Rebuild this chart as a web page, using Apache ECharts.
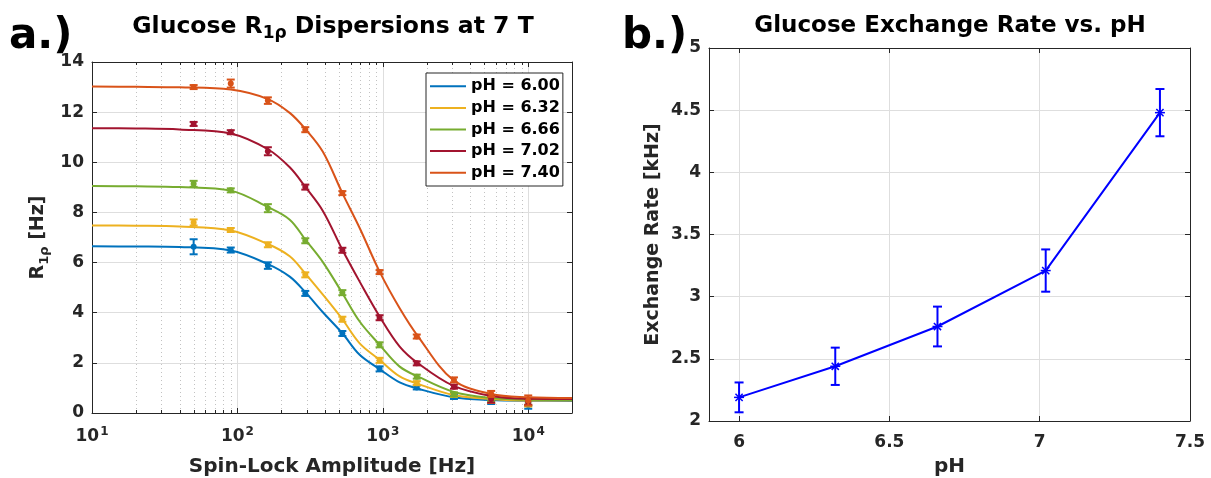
<!DOCTYPE html>
<html>
<head>
<meta charset="utf-8">
<script src="https://cdn.jsdelivr.net/npm/echarts@6/dist/echarts.min.js"></script>
<style>
  html, body { margin: 0; padding: 0; background: #ffffff; }
  #main { width: 1211px; height: 478px; }
</style>
</head>
<body>
<div id="main"></div>
<script>
// ---- Panel a: R1rho dispersion data (spin-lock amplitude in Hz) ----
const spinLockHz = [50, 90, 162, 293, 527, 950, 1712, 3085, 5560, 10000];
const phLabels = ['pH = 6.00', 'pH = 6.32', 'pH = 6.66', 'pH = 7.02', 'pH = 7.40'];
const phColors = ['#0072BD', '#EDB120', '#77AC30', '#A2142F', '#D95319'];

const r1rhoPH600 = [6.63, 6.50, 5.88, 4.77, 3.17, 1.76, 1.02, 0.64, 0.46, 0.32];
const r1rhoPH632 = [7.60, 7.30, 6.71, 5.51, 3.74, 2.10, 1.19, 0.72, 0.50, 0.38];
const r1rhoPH666 = [9.14, 8.88, 8.17, 6.87, 4.80, 2.72, 1.45, 0.74, 0.58, 0.42];
const r1rhoPH702 = [11.53, 11.20, 10.44, 9.01, 6.49, 3.80, 1.98, 1.05, 0.56, 0.45];
const r1rhoPH740 = [13.00, 13.14, 12.46, 11.30, 8.77, 5.62, 3.05, 1.32, 0.76, 0.50];

const r1rhoErr600 = [0.30, 0.10, 0.13, 0.10, 0.10, 0.10, 0.08, 0.08, 0.10, 0.15];
const r1rhoErr632 = [0.12, 0.08, 0.10, 0.10, 0.10, 0.10, 0.08, 0.08, 0.10, 0.12];
const r1rhoErr666 = [0.12, 0.08, 0.16, 0.10, 0.10, 0.10, 0.08, 0.08, 0.10, 0.12];
const r1rhoErr702 = [0.08, 0.08, 0.16, 0.10, 0.10, 0.10, 0.08, 0.08, 0.15, 0.12];
const r1rhoErr740 = [0.08, 0.16, 0.13, 0.10, 0.08, 0.08, 0.08, 0.10, 0.12, 0.20];

// fitted dispersion curves, sampled along the spin-lock axis
const fitHz = [10, 20, 40, 90, 162, 229, 293, 387, 527, 693, 950, 1306, 1750, 3041, 5560, 10000, 20000];
const fitPH600 = [6.65, 6.64, 6.62, 6.48, 5.94, 5.44, 4.82, 4.02, 3.18, 2.32, 1.75, 1.22, 0.97, 0.63, 0.52, 0.49, 0.48];
const fitPH632 = [7.48, 7.47, 7.44, 7.28, 6.74, 6.25, 5.56, 4.72, 3.74, 2.78, 2.12, 1.46, 1.16, 0.72, 0.56, 0.50, 0.50];
const fitPH666 = [9.05, 9.04, 9.01, 8.87, 8.21, 7.71, 6.92, 6.02, 4.78, 3.65, 2.72, 1.85, 1.45, 0.85, 0.60, 0.53, 0.52];
const fitPH702 = [11.36, 11.35, 11.31, 11.15, 10.52, 9.80, 9.02, 8.06, 6.51, 5.24, 3.85, 2.65, 1.98, 1.09, 0.68, 0.57, 0.56];
const fitPH740 = [13.02, 13.01, 12.99, 12.90, 12.52, 11.97, 11.33, 10.42, 8.77, 7.38, 5.64, 4.18, 3.05, 1.32, 0.76, 0.63, 0.60];

// minor decade positions on the log axis
const minorTickHz = [20, 30, 40, 50, 60, 70, 80, 90,
                     200, 300, 400, 500, 600, 700, 800, 900,
                     2000, 3000, 4000, 5000, 6000, 7000, 8000, 9000];

// ---- Panel b: exchange rate vs pH ----
const phValues = [6.00, 6.32, 6.66, 7.02, 7.40];
const exchangeRateKHz = [2.19, 2.44, 2.76, 3.21, 4.48];
const exchangeRateErr = [0.12, 0.15, 0.16, 0.17, 0.19];

const r1rhoSets = [r1rhoPH600, r1rhoPH632, r1rhoPH666, r1rhoPH702, r1rhoPH740];
const r1rhoErrs = [r1rhoErr600, r1rhoErr632, r1rhoErr666, r1rhoErr702, r1rhoErr740];
const fitSets = [fitPH600, fitPH632, fitPH666, fitPH702, fitPH740];

const FONT = '"DejaVu Sans", Verdana, sans-serif';
const INK = '#262626';
const GRID_MAJOR = '#dedede';
const GRID_MINOR = '#c2c2c2';

const chart = echarts.init(document.getElementById('main'), null, { renderer: 'canvas' });

function tickLabelStyle() {
  return { color: INK, fontFamily: FONT, fontWeight: 'bold', fontSize: 17 };
}
function axisLineStyle() {
  return { show: true, onZero: false, lineStyle: { color: INK, width: 1 } };
}
function innerTicks() {
  return { show: true, inside: true, length: 5, lineStyle: { color: INK, width: 1 } };
}
function isDecade(v) {
  const e = Math.log10(v);
  return Math.abs(e - Math.round(e)) < 1e-6;
}

// error bar with caps plus a filled dot marker
function dotErrorBar(params, api) {
  const x = api.value(0), y = api.value(1), e = api.value(2);
  const hi = api.coord([x, y + e]);
  const lo = api.coord([x, y - e]);
  const mid = api.coord([x, y]);
  const color = api.visual('color');
  const s = { stroke: color, lineWidth: 2, fill: null };
  const cap = 4;
  return {
    type: 'group',
    children: [
      { type: 'line', shape: { x1: hi[0], y1: hi[1], x2: lo[0], y2: lo[1] }, style: s },
      { type: 'line', shape: { x1: hi[0] - cap, y1: hi[1], x2: hi[0] + cap, y2: hi[1] }, style: s },
      { type: 'line', shape: { x1: lo[0] - cap, y1: lo[1], x2: lo[0] + cap, y2: lo[1] }, style: s },
      { type: 'circle', shape: { cx: mid[0], cy: mid[1], r: 3 }, style: { fill: color } }
    ]
  };
}

// error bar with caps plus an asterisk marker
function starErrorBar(params, api) {
  const x = api.value(0), y = api.value(1), e = api.value(2);
  const hi = api.coord([x, y + e]);
  const lo = api.coord([x, y - e]);
  const c = api.coord([x, y]);
  const s = { stroke: '#0000ff', lineWidth: 2, fill: null };
  const thin = { stroke: '#0000ff', lineWidth: 1.5 };
  const cap = 4.5, r = 5, d = 3.6;
  return {
    type: 'group',
    children: [
      { type: 'line', shape: { x1: hi[0], y1: hi[1], x2: lo[0], y2: lo[1] }, style: s },
      { type: 'line', shape: { x1: hi[0] - cap, y1: hi[1], x2: hi[0] + cap, y2: hi[1] }, style: s },
      { type: 'line', shape: { x1: lo[0] - cap, y1: lo[1], x2: lo[0] + cap, y2: lo[1] }, style: s },
      { type: 'line', shape: { x1: c[0] - r, y1: c[1], x2: c[0] + r, y2: c[1] }, style: thin },
      { type: 'line', shape: { x1: c[0] - d, y1: c[1] - d, x2: c[0] + d, y2: c[1] + d }, style: thin },
      { type: 'line', shape: { x1: c[0] - d, y1: c[1] + d, x2: c[0] + d, y2: c[1] - d }, style: thin }
    ]
  };
}

// dotted minor grid lines and small minor ticks of the log axis
function minorGrid(params, api) {
  const v = api.value(0);
  const b = api.coord([v, 0]);
  const t = api.coord([v, 14]);
  const x = Math.round(b[0]) + 0.5;
  return {
    type: 'group',
    children: [
      { type: 'line', shape: { x1: x, y1: b[1], x2: x, y2: t[1] }, style: { stroke: GRID_MINOR, lineWidth: 1, lineDash: [1, 3] } },
      { type: 'line', shape: { x1: x, y1: b[1], x2: x, y2: b[1] - 3 }, style: { stroke: INK, lineWidth: 1 } },
      { type: 'line', shape: { x1: x, y1: t[1], x2: x, y2: t[1] + 3 }, style: { stroke: INK, lineWidth: 1 } }
    ]
  };
}

const series = [];
series.push({
  type: 'custom', name: 'minor-grid', xAxisIndex: 0, yAxisIndex: 0, silent: true, z: 1,
  data: minorTickHz.map(v => [v, 0]),
  renderItem: minorGrid
});
fitSets.forEach((fit, i) => {
  series.push({
    type: 'line', name: phLabels[i], xAxisIndex: 0, yAxisIndex: 0,
    data: fitHz.map((x, k) => [x, fit[k]]),
    smooth: 0.35, symbol: 'none', z: 3 + i * 2,
    itemStyle: { color: phColors[i] },
    lineStyle: { color: phColors[i], width: 2 }
  });
  series.push({
    type: 'custom', name: phLabels[i] + ' data', xAxisIndex: 0, yAxisIndex: 0, z: 4 + i * 2,
    itemStyle: { color: phColors[i] },
    data: spinLockHz.map((x, k) => [x, r1rhoSets[i][k], r1rhoErrs[i][k]]),
    renderItem: dotErrorBar
  });
});
series.push({
  type: 'line', name: 'exchange', xAxisIndex: 2, yAxisIndex: 2,
  data: phValues.map((x, k) => [x, exchangeRateKHz[k]]),
  symbol: 'none', z: 3,
  lineStyle: { color: '#0000ff', width: 2 }
});
series.push({
  type: 'custom', name: 'exchange-err', xAxisIndex: 2, yAxisIndex: 2, z: 4,
  data: phValues.map((x, k) => [x, exchangeRateKHz[k], exchangeRateErr[k]]),
  renderItem: starErrorBar
});

const option = {
  animation: false,
  backgroundColor: '#ffffff',
  grid: [
    { left: 92, top: 62, width: 480, height: 351, show: false, outerBoundsMode: 'none', containLabel: false },
    { left: 709, top: 48, width: 481, height: 373, show: false, outerBoundsMode: 'none', containLabel: false }
  ],
  legend: {
    data: phLabels,
    icon: 'rect',
    orient: 'vertical',
    left: 426, top: 73,
    itemWidth: 36, itemHeight: 2, itemGap: 1,
    padding: [3, 3, 3, 4],
    borderColor: INK, borderWidth: 1,
    backgroundColor: '#ffffff',
    textStyle: { color: '#000000', fontFamily: FONT, fontWeight: 'bold', fontSize: 16, lineHeight: 20.6 },
    selectedMode: false
  },
  xAxis: [
    {
      gridIndex: 0, type: 'log', logBase: 10, min: 10, max: 20000, position: 'bottom',
      axisLine: axisLineStyle(), axisTick: innerTicks(),
      axisLabel: Object.assign(tickLabelStyle(), {
        margin: 13,
        formatter: v => isDecade(v) ? '{b|10}{p|' + Math.round(Math.log10(v)) + '}' : '',
        rich: {
          b: { color: INK, fontFamily: FONT, fontWeight: 'bold', fontSize: 17, lineHeight: 21 },
          p: { color: INK, fontFamily: FONT, fontWeight: 'bold', fontSize: 12, lineHeight: 14, padding: [0, 0, 10, 1] }
        }
      }),
      splitLine: { show: true, lineStyle: { color: GRID_MAJOR, width: 1 } },
      name: 'Spin-Lock Amplitude [Hz]', nameLocation: 'middle', nameGap: 44,
      nameTextStyle: { color: INK, fontFamily: FONT, fontWeight: 'bold', fontSize: 20 }
    },
    {
      gridIndex: 0, type: 'log', logBase: 10, min: 10, max: 20000, position: 'top',
      axisLine: axisLineStyle(), axisTick: innerTicks(),
      axisLabel: { show: false }, splitLine: { show: false }
    },
    {
      gridIndex: 1, type: 'value', min: 5.9, max: 7.5, splitNumber: 3, position: 'bottom',
      axisLine: axisLineStyle(), axisTick: innerTicks(),
      axisLabel: Object.assign(tickLabelStyle(), {
        margin: 13,
        formatter: v => (Math.abs(v * 2 - Math.round(v * 2)) < 1e-6) ? String(+v.toFixed(1)) : ''
      }),
      splitLine: { show: true, lineStyle: { color: GRID_MAJOR, width: 1 } },
      name: 'pH', nameLocation: 'middle', nameGap: 36,
      nameTextStyle: { color: INK, fontFamily: FONT, fontWeight: 'bold', fontSize: 20 }
    },
    {
      gridIndex: 1, type: 'value', min: 5.9, max: 7.5, splitNumber: 3, position: 'top',
      axisLine: axisLineStyle(), axisTick: innerTicks(),
      axisLabel: { show: false }, splitLine: { show: false }
    }
  ],
  yAxis: [
    {
      gridIndex: 0, type: 'value', min: 0, max: 14, interval: 2, position: 'left',
      axisLine: axisLineStyle(), axisTick: innerTicks(),
      axisLabel: Object.assign(tickLabelStyle(), { margin: 8 }),
      splitLine: { show: true, lineStyle: { color: GRID_MAJOR, width: 1 } },
      name: '{m|R}{s|1\u03C1}{m| [Hz]}', nameLocation: 'middle', nameGap: 42, nameRotate: 90,
      nameTextStyle: {
        rich: {
          m: { color: INK, fontFamily: FONT, fontWeight: 'bold', fontSize: 19, lineHeight: 23 },
          s: { color: INK, fontFamily: FONT, fontWeight: 'bold', fontSize: 13, lineHeight: 15, padding: [13, 0, 0, 0] }
        }
      }
    },
    {
      gridIndex: 0, type: 'value', min: 0, max: 14, interval: 2, position: 'right',
      axisLine: axisLineStyle(), axisTick: innerTicks(),
      axisLabel: { show: false }, splitLine: { show: false }
    },
    {
      gridIndex: 1, type: 'value', min: 2, max: 5, interval: 0.5, position: 'left',
      axisLine: axisLineStyle(), axisTick: innerTicks(),
      axisLabel: Object.assign(tickLabelStyle(), { margin: 8 }),
      splitLine: { show: true, lineStyle: { color: GRID_MAJOR, width: 1 } },
      name: 'Exchange Rate [kHz]', nameLocation: 'middle', nameGap: 46, nameRotate: 90,
      nameTextStyle: { color: INK, fontFamily: FONT, fontWeight: 'bold', fontSize: 19 }
    },
    {
      gridIndex: 1, type: 'value', min: 2, max: 5, interval: 0.5, position: 'right',
      axisLine: axisLineStyle(), axisTick: innerTicks(),
      axisLabel: { show: false }, splitLine: { show: false }
    }
  ],
  graphic: [
    {
      type: 'text', x: 9, y: 37,
      style: { text: 'a.)', fontFamily: FONT, fontWeight: 'bold', fontSize: 42, fill: '#000000', align: 'left', verticalAlign: 'middle' }
    },
    {
      type: 'text', x: 333, y: 27,
      style: {
        text: '{t|Glucose R}{s|1\u03C1}{t| Dispersions at 7 T}',
        align: 'center', verticalAlign: 'middle',
        rich: {
          t: { fontFamily: FONT, fontWeight: 'bold', fontSize: 23.5, lineHeight: 27, fill: '#000000' },
          s: { fontFamily: FONT, fontWeight: 'bold', fontSize: 17, lineHeight: 19, padding: [14, 0, 0, 0], fill: '#000000' }
        }
      }
    },
    {
      type: 'text', x: 622, y: 37,
      style: { text: 'b.)', fontFamily: FONT, fontWeight: 'bold', fontSize: 42, fill: '#000000', align: 'left', verticalAlign: 'middle' }
    },
    {
      type: 'text', x: 950, y: 26,
      style: { text: 'Glucose Exchange Rate vs. pH', fontFamily: FONT, fontWeight: 'bold', fontSize: 23, fill: '#000000', align: 'center', verticalAlign: 'middle' }
    }
  ],
  series: series
};

chart.setOption(option);
</script>
</body>
</html>
